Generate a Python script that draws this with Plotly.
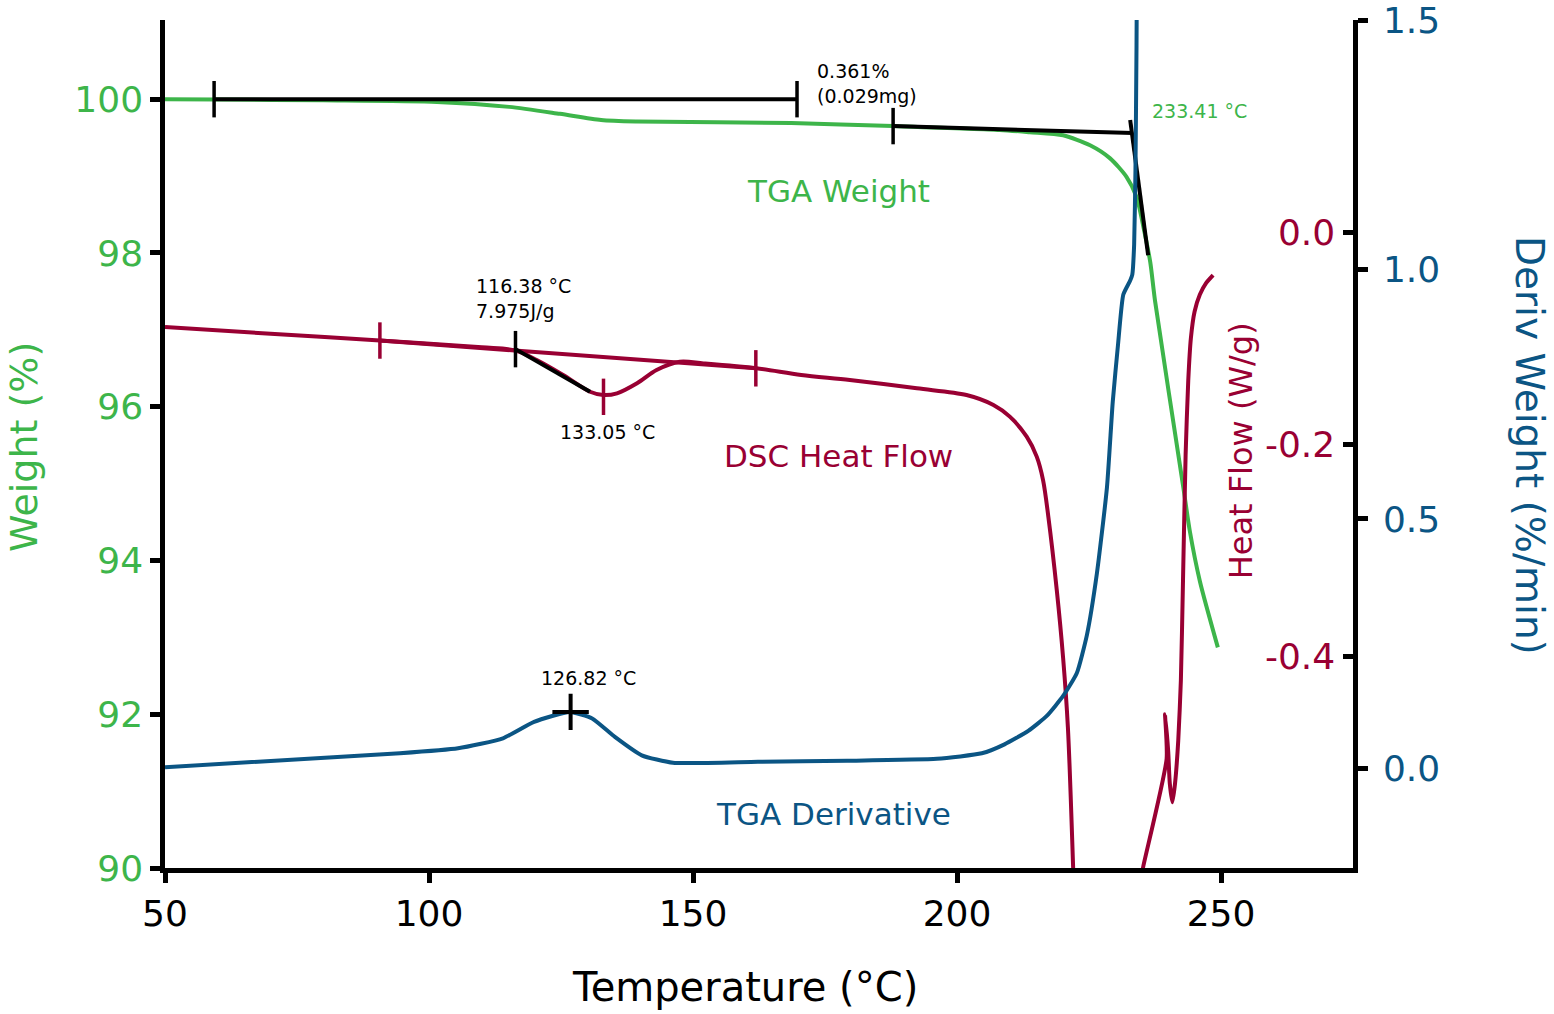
import plotly.graph_objects as go

GREEN = "#3db54a"
RED = "#990033"
BLUE = "#0b5584"
FONT = "DejaVu Sans"

# TGA weight (%)
tga_T = [50, 60, 80, 101.5, 115.2, 124.8, 132.6, 139.4, 168.6, 187.9, 208.1, 213.8, 220.1,
         225.2, 229.0, 232.1, 234.0, 235.3, 236.6, 237.5, 242.8, 244.1, 246.0, 249.4]
tga_w = [100.0, 99.995, 99.985, 99.965, 99.90, 99.81, 99.73, 99.71, 99.69, 99.65, 99.60, 99.57,
         99.53, 99.40, 99.23, 98.99, 98.73, 98.34, 97.88, 97.38, 94.98, 94.38, 93.73, 92.87]

# TGA derivative (%/min)
deriv_T = [50, 94.5, 105.5, 114.0, 119.9, 126.7, 130.9, 135.2, 140.3, 146.2, 162.3, 179.2,
           196.2, 204.7, 209.0, 213.5, 217.0, 220.1, 222.7, 224.6, 226.5, 228.4, 229.5,
           230.5, 231.5, 232.8, 233.2, 233.55, 233.8, 234.0, 234.1]
deriv_v = [0.002, 0.030, 0.040, 0.060, 0.093, 0.113, 0.100, 0.063, 0.026, 0.011, 0.013, 0.015,
           0.019, 0.030, 0.048, 0.075, 0.105, 0.145, 0.191, 0.267, 0.391, 0.563, 0.735,
           0.850, 0.950, 0.978, 0.990, 1.05, 1.20, 1.45, 1.65]

# DSC heat flow (W/g), before and after the off-scale excursion
dsc_T_a = [50, 70, 90.7, 110.0, 116.4, 120.4, 125.4, 130.5, 133.0, 135.6, 139.4, 143.1, 147.5,
           152, 162.0, 170.5, 179.7, 192.4, 201.8, 206.9, 210.0, 213.2, 215.1, 216.3, 217.3,
           218.9, 220.1, 221.0, 222.0, 222.4]
dsc_hf_a = [-0.0896, -0.096, -0.1024, -0.1088, -0.1118, -0.1208, -0.1349, -0.1507, -0.1538,
            -0.1522, -0.1427, -0.1302, -0.1224, -0.1240, -0.1286, -0.1349, -0.1396, -0.1475,
            -0.1538, -0.1632, -0.1742, -0.1931, -0.2119, -0.234, -0.2686, -0.338, -0.402,
            -0.467, -0.60, -0.66]
dsc_T_b = [234.85, 235.3, 239.7, 239.4, 240.0, 240.3, 240.8, 241.3, 241.9, 242.4, 242.8,
           243.3, 243.8, 244.3, 245.0, 246.0, 247.2, 248.5]
dsc_hf_b = [-0.61, -0.598, -0.497, -0.455, -0.49, -0.52, -0.538, -0.52, -0.48, -0.423, -0.33,
            -0.21, -0.14, -0.10, -0.075, -0.059, -0.048, -0.0406]

# analysis marks
step_T = [59.3, 169.7]
step_w = [100.0, 100.0]
onset_T = [187.9, 233.3]
onset_w = [99.65, 99.56]
tangent_T = [232.8, 236.2]
tangent_w = [99.73, 97.97]
dsc_base_T = [90.7, 161.9]
dsc_base_hf = [-0.1024, -0.1286]
dsc_tick_T = [90.7, 133.05, 161.9]
dsc_tick_hf = [-0.1024, -0.1555, -0.1286]
dsc_onset_T = [116.38, 130.5]
dsc_onset_hf = [-0.1105, -0.1507]
peak_T = [126.82]
peak_v = [0.113]

x_ticks = [50, 100, 150, 200, 250]
w_ticks = [90, 92, 94, 96, 98, 100]
hf_ticks = [-0.4, -0.2, 0.0]
hf_labels = ["-0.4", "-0.2", "0.0"]
dv_ticks = [0.0, 0.5, 1.0, 1.5]
dv_labels = ["0.0", "0.5", "1.0", "1.5"]

fig = go.Figure()

fig.add_trace(go.Scatter(x=tga_T, y=tga_w, mode="lines", yaxis="y",
                         line=dict(color=GREEN, width=4, shape="spline", smoothing=0.7)))
fig.add_trace(go.Scatter(x=step_T, y=step_w, mode="lines+markers", yaxis="y",
                         line=dict(color="black", width=4),
                         marker=dict(symbol="line-ns", size=26, line=dict(width=3.5, color="black"))))
fig.add_trace(go.Scatter(x=onset_T, y=onset_w, mode="lines", yaxis="y",
                         line=dict(color="black", width=4)))
fig.add_trace(go.Scatter(x=onset_T[:1], y=onset_w[:1], mode="markers", yaxis="y",
                         marker=dict(symbol="line-ns", size=26, line=dict(width=3.5, color="black"))))
fig.add_trace(go.Scatter(x=tangent_T, y=tangent_w, mode="lines", yaxis="y",
                         line=dict(color="black", width=4)))

fig.add_trace(go.Scatter(x=dsc_T_a, y=dsc_hf_a, mode="lines", yaxis="y2",
                         line=dict(color=RED, width=4, shape="spline", smoothing=0.9)))
fig.add_trace(go.Scatter(x=dsc_T_b, y=dsc_hf_b, mode="lines", yaxis="y2",
                         line=dict(color=RED, width=4, shape="spline", smoothing=0.6)))
fig.add_trace(go.Scatter(x=dsc_base_T, y=dsc_base_hf, mode="lines", yaxis="y2",
                         line=dict(color=RED, width=4)))
fig.add_trace(go.Scatter(x=dsc_tick_T, y=dsc_tick_hf, mode="markers", yaxis="y2",
                         marker=dict(symbol="line-ns", size=26, line=dict(width=3.5, color=RED))))
fig.add_trace(go.Scatter(x=dsc_onset_T, y=dsc_onset_hf, mode="lines", yaxis="y2",
                         line=dict(color="black", width=4)))
fig.add_trace(go.Scatter(x=dsc_onset_T[:1], y=dsc_onset_hf[:1], mode="markers", yaxis="y2",
                         marker=dict(symbol="line-ns", size=26, line=dict(width=3.5, color="black"))))

fig.add_trace(go.Scatter(x=deriv_T, y=deriv_v, mode="lines", yaxis="y3",
                         line=dict(color=BLUE, width=4, shape="spline", smoothing=0.5)))
fig.add_trace(go.Scatter(x=peak_T, y=peak_v, mode="markers", yaxis="y3",
                         marker=dict(symbol="cross-thin", size=26, line=dict(width=4, color="black"))))

axis_common = dict(showgrid=False, zeroline=False, linecolor="black", linewidth=4.5,
                   tickcolor="black", tickwidth=4.5, ticklen=10, ticklabeloverflow="allow",
                   automargin=False)

fig.update_layout(
    width=1554, height=1014,
    margin=dict(l=165, r=201, t=20, b=146),
    plot_bgcolor="white", paper_bgcolor="white",
    showlegend=False,
    font=dict(family=FONT, color="black"),
    xaxis=dict(range=[50, 275], tickvals=x_ticks, ticks="outside", showline=True,
               tickfont=dict(size=36, color="black"), **axis_common),
    yaxis=dict(range=[90, 101.03], tickvals=w_ticks, ticks="outside", showline=True,
               tickfont=dict(size=36, color=GREEN), **axis_common),
    yaxis2=dict(range=[-0.6, 0.2], tickvals=hf_ticks, ticktext=hf_labels, overlaying="y",
                side="right", anchor="x", ticks="inside", ticklabelposition="inside",
                ticklabelstandoff=12, showline=False,
                tickfont=dict(size=36, color=RED), **axis_common),
    yaxis3=dict(range=[-0.2, 1.5005], tickvals=dv_ticks, ticktext=dv_labels, overlaying="y",
                side="right", anchor="x", ticks="outside", showline=True,
                ticklabelstandoff=8, tickfont=dict(size=36, color=BLUE), **axis_common),
)

notes = [
    dict(x=173.1, y=100.21, yref="y", text="0.361%<br>(0.029mg)", xanchor="left",
         align="left", font=dict(size=19, color="black")),
    dict(x=236.6, y=99.84, yref="y", text="233.41 °C", xanchor="left",
         font=dict(size=19, color=GREEN)),
    dict(x=177.6, y=98.81, yref="y", text="TGA Weight", font=dict(size=31, color=GREEN)),
    dict(x=108.5, y=-0.0632, yref="y2", text="116.38 °C<br>7.975J/g", xanchor="left",
         align="left", font=dict(size=19, color="black")),
    dict(x=124.4, y=-0.1887, yref="y2", text="133.05 °C", xanchor="left",
         font=dict(size=19, color="black")),
    dict(x=177.6, y=-0.2113, yref="y2", text="DSC Heat Flow", font=dict(size=31, color=RED)),
    dict(x=130.3, y=0.1804, yref="y3", text="126.82 °C", font=dict(size=19, color="black")),
    dict(x=176.7, y=-0.0922, yref="y3", text="TGA Derivative", font=dict(size=31, color=BLUE)),
    dict(x=0.488, y=-0.1403, xref="paper", yref="paper", text="Temperature (°C)",
         font=dict(size=40, color="black")),
    dict(x=-0.1187, y=0.4965, xref="paper", yref="paper", text="Weight (%)", textangle=-90,
         font=dict(size=38, color=GREEN)),
    dict(x=0.906, y=0.4917, xref="paper", yref="paper", text="Heat Flow (W/g)", textangle=-90,
         font=dict(size=32, color=RED)),
    dict(x=1.149, y=0.4988, xref="paper", yref="paper", text="Deriv Weight (%/min)",
         textangle=90, font=dict(size=39, color=BLUE)),
]
for n in notes:
    n.setdefault("xref", "x")
    n.setdefault("xanchor", "center")
    n["yanchor"] = "middle"
    n["showarrow"] = False
    fig.add_annotation(**n)

# drop the default 8px body margin so the figure fills the window exactly
fig.write_html("out.html", config={"displayModeBar": False},
               post_script="document.body.style.margin = '0';")
